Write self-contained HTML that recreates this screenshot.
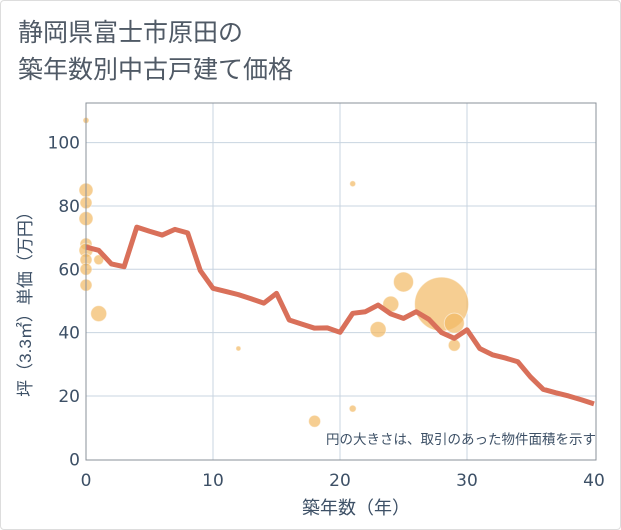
<!DOCTYPE html>
<html><head><meta charset="utf-8"><style>
body{margin:0;background:#fff;font-family:"Liberation Sans","Noto Sans CJK JP",sans-serif}
#wrap{position:relative;width:619px;height:528px;border:1px solid #ddd;border-radius:4px}
</style></head><body>
<div id="wrap">
<svg id="chart" width="621" height="530" style="position:absolute;left:-1px;top:-1px">
<text x="18" y="41" font-size="25" fill="#505a66">静岡県富士市原田の</text>
<text x="18" y="78" font-size="25" fill="#505a66">築年数別中古戸建て価格</text>
<g id="grid"></g><g id="bubbles"></g><g id="line"></g><g id="axes"></g>
</svg></div>
<script>
const years=[0,1,2,3,4,5,6,7,8,9,10,11,12,13,14,15,16,17,18,19,20,21,22,23,24,25,26,27,28,29,30,31,32,33,34,35,36,37,38,39,40];
const prices=[67,66,61.7,60.8,73.3,72,70.8,72.6,71.5,59.6,54,53,52,50.7,49.3,52.4,44,42.7,41.4,41.5,40.1,46.1,46.6,48.7,45.9,44.5,46.6,44.2,40,38.2,40.9,35,33,32,30.8,26,22.1,21,20,18.8,17.5];
const bubbleX=[0,0,0,0,0,0,0,0,0,1,1,12,18,21,21,23,24,25,28,29,29];
const bubbleY=[107,85,81,76,68,66,63,60,55,63,46,35,12,87,16,41,49,56,49,43,36];
const bubbleR=[3,7,6,7,6,7,6,6,6,5,8,2.5,6,3,3.5,8,8,10,27,10,6];
const xTicks=[0,10,20,30,40];
const yTicks=[0,20,40,60,80,100];
const NS="http://www.w3.org/2000/svg";
const X0=86,X1=594,Y0=459.3,YS=3.167;
const xs=v=>X0+(X1-X0)*v/40, ys=v=>Y0-v*YS;
function mk(p,t,a){const e=document.createElementNS(NS,t);for(const k in a)e.setAttribute(k,a[k]);document.getElementById(p).appendChild(e);return e;}
const TF='"DejaVu Sans",sans-serif';
for(const t of xTicks){
 if(t>0&&t<40){const g=mk('grid','line',{x1:xs(t),x2:xs(t),y1:103,y2:460,stroke:'#c8d4e0'});
 
 }
 const l=mk('axes','text',{x:xs(t),y:486,'text-anchor':'middle','font-size':17,fill:'#3d5066','font-family':TF});l.textContent=t;
 
 
}
for(const t of yTicks){
 if(t>0){const g=mk('grid','line',{x1:86,x2:596,y1:ys(t),y2:ys(t),stroke:'#c8d4e0'});
 
 }
 const l=mk('axes','text',{x:80,y:ys(t)+6,'text-anchor':'end','font-size':17,fill:'#3d5066','font-family':TF});l.textContent=t;
 
 
}
const fr=mk('axes','rect',{x:86,y:103,width:510,height:357,fill:'none',stroke:'#8a9099','stroke-width':1});


bubbleX.forEach((v,i)=>{const c=mk('bubbles','circle',{cx:xs(v),cy:ys(bubbleY[i]),r:bubbleR[i],fill:'rgba(242,185,100,0.7)',stroke:'rgba(255,255,255,0.5)'});
 
 });
const pl=mk('line','polyline',{points:years.map((y,i)=>xs(y)+','+ys(prices[i])).join(' '),fill:'none',stroke:'#d9705a','stroke-width':5,'stroke-linejoin':'round'});


const xt=mk('axes','text',{x:356,y:514,'text-anchor':'middle','font-size':18,fill:'#3d5066'});xt.textContent='築年数（年）';


const yt=mk('axes','text',{x:0,y:0,'text-anchor':'middle','font-size':17,fill:'#3d5066',transform:'translate(31,300) rotate(-90)'});yt.textContent='坪（3.3㎡）単価（万円）';


const nt=mk('axes','text',{x:596,y:444,'text-anchor':'end','font-size':13.5,fill:'#3d5066'});nt.textContent='円の大きさは、取引のあった物件面積を示す';


</script>
</body></html>
